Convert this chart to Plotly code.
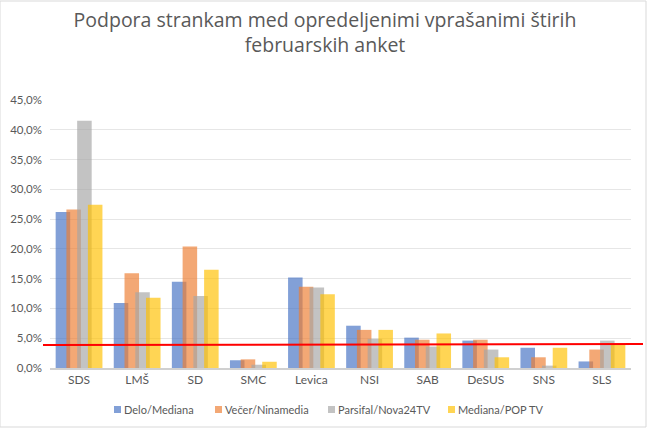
import plotly.graph_objects as go

stranke = ["SDS", "LMŠ", "SD", "SMC", "Levica", "NSI", "SAB", "DeSUS", "SNS", "SLS"]

delo_mediana = [26.2, 10.9, 14.5, 1.3, 15.2, 7.1, 5.1, 4.6, 3.4, 1.1]
vecer_ninamedia = [26.6, 15.9, 20.4, 1.45, 13.65, 6.4, 4.75, 4.75, 1.8, 3.1]
parsifal_nova24 = [41.5, 12.7, 12.1, 0.55, 13.5, 4.9, 3.6, 3.1, 0.4, 4.6]
mediana_poptv = [27.4, 11.8, 16.5, 1.05, 12.4, 6.4, 5.8, 1.8, 3.4, 4.0]

prag = 4  # parliamentary threshold line

serije = [
    ("Delo/Mediana", delo_mediana, "#4472C4"),
    ("Večer/Ninamedia", vecer_ninamedia, "#ED7D31"),
    ("Parsifal/Nova24TV", parsifal_nova24, "#A5A5A5"),
    ("Mediana/POP TV", mediana_poptv, "#FFC000"),
]

# plot area in pixels, used to place the hand-made legend and frame
L, R, T, B = 50, 631, 100, 368
def px_x(x):
    return (x - L) / (R - L)
def px_y(y):
    return (B - y) / (B - T)

legenda_x = [114, 215, 328, 448]  # left edge of each legend square, px

fig = go.Figure()
sirina = 0.25
korak = 0.185
for i, (ime, vrednosti, barva) in enumerate(serije):
    fig.add_trace(go.Bar(
        x=stranke,
        y=vrednosti,
        name=ime,
        width=sirina,
        offset=-0.4025 + i * korak,
        marker=dict(color=barva, opacity=0.67, line=dict(width=0)),
        showlegend=False,
    ))
    # legend entry: small square + label
    fig.add_shape(
        type="rect", xref="paper", yref="paper",
        x0=px_x(legenda_x[i]), x1=px_x(legenda_x[i] + 7),
        y0=px_y(413), y1=px_y(406),
        fillcolor=barva, opacity=0.67, line=dict(width=0),
    )
    fig.add_annotation(
        text=ime, xref="paper", yref="paper",
        x=px_x(legenda_x[i] + 8), y=px_y(409.5),
        xanchor="left", yanchor="middle", showarrow=False,
        font=dict(family="Lato", size=11, color="#595959"),
    )

fig.update_layout(
    width=650,
    height=430,
    barmode="overlay",
    separators=",.",
    paper_bgcolor="white",
    plot_bgcolor="white",
    margin=dict(l=L, r=650 - R, t=T, b=430 - B, autoexpand=False),
    title=dict(
        text="Podpora strankam med opredeljenimi vprašanimi štirih<br>februarskih anket",
        x=0.5, xanchor="center",
        y=1 - 27 / 430, yanchor="middle",
        font=dict(family="Open Sans", size=19.5, color="#595959"),
    ),
    font=dict(family="Lato", color="#595959"),
    showlegend=False,
)

fig.update_yaxes(
    range=[0, 45],
    dtick=5,
    tickformat=".1f",
    ticksuffix="%",
    showgrid=True,
    gridcolor="#E6E6E6",
    zeroline=False,
    showline=False,
    tickfont=dict(size=11.5, color="#595959"),
    ticks="",
    ticklabelstandoff=7,
)
fig.update_xaxes(
    showline=True,
    linecolor="#D0D0D0",
    linewidth=2,
    ticks="",
    tickfont=dict(size=12, color="#595959"),
)

fig.add_shape(
    type="line", xref="paper", yref="y",
    x0=px_x(43), x1=px_x(643),
    y0=prag - 0.15, y1=prag + 0.03,
    line=dict(color="#FF0000", width=2),
)
fig.add_shape(
    type="rect", xref="paper", yref="paper",
    x0=px_x(0), x1=px_x(646),
    y0=px_y(427), y1=px_y(1),
    line=dict(color="#D9D9D9", width=1),
)

fig.write_html(
    "out.html",
    config={"displayModeBar": False},
    post_script="document.body.style.margin='0px';",
)
